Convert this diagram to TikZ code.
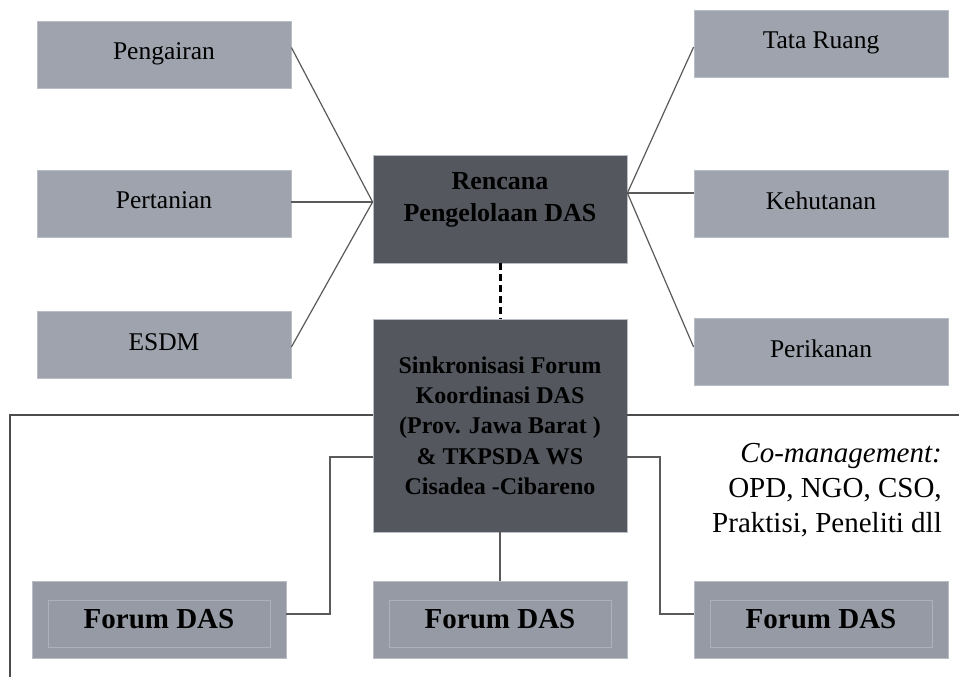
\documentclass[tikz,border=0pt]{standalone}
\usepackage{fontspec}
\setmainfont{Liberation Serif}
\usetikzlibrary{calc}
\definecolor{boxlight}{HTML}{9EA3AD}
\definecolor{boxforum}{HTML}{959AA4}
\definecolor{boxdark}{HTML}{54575E}
\definecolor{edgelight}{HTML}{B9BDC5}
\definecolor{linegray}{HTML}{5A5A5A}
\begin{document}
\begin{tikzpicture}[x=1pt,y=-1pt,
  smallbox/.style={fill=boxlight,draw=edgelight,line width=0.8pt,minimum width=254pt,minimum height=67pt,inner sep=0pt,font=\fontsize{25.5}{30}\selectfont},
  darkbox/.style={fill=boxdark,draw=edgelight,line width=0.8pt,minimum width=254pt,inner sep=0pt,align=center,font=\bfseries},
  forumbox/.style={fill=boxforum,draw=edgelight,line width=0.8pt,minimum width=254pt,minimum height=77pt,inner sep=0pt},
  forumin/.style={draw=boxlight!85!white,line width=0.6pt,minimum width=222pt,minimum height=47pt,inner sep=0pt},
  forumtxt/.style={font=\bfseries\fontsize{29}{32}\selectfont},
  conn/.style={draw=linegray,line width=1.2pt},
  frame/.style={draw=black!70,line width=1.8pt}]
\useasboundingbox (0,0) rectangle (959,677);
\fill[white] (0,0) rectangle (959,677);

% left boxes
\node[smallbox] (peng) at (164,54.5) {\raisebox{6pt}{Pengairan}};
\node[smallbox] (pert) at (164,203.5) {\raisebox{6pt}{Pertanian}};
\node[smallbox] (esdm) at (164,345) {\raisebox{6pt}{ESDM}};
% right boxes
\node[smallbox] (tata) at (821,43.5) {\raisebox{6pt}{Tata Ruang}};
\node[smallbox] (kehu) at (821,203.5) {\raisebox{6pt}{Kehutanan}};
\node[smallbox] (peri) at (821,351.5) {\raisebox{6pt}{Perikanan}};

% centre boxes
\node[darkbox,minimum height=108pt] (renc) at (500,209) {};
\node[align=center,inner sep=0pt,font=\bfseries\fontsize{26}{32}\selectfont] (renct) at (500,200) {Rencana\\Pengelolaan DAS};
\node[darkbox,minimum height=213pt,font=\bfseries\fontsize{24}{30.3}\selectfont] (sink) at (500,425.5)
  {Sinkronisasi Forum\\Koordinasi DAS\\(Prov. Jawa Barat )\\\& TKPSDA WS\\Cisadea -Cibareno};

% forum boxes
\node[forumbox] (fl) at (159,619.5) {};
\node[forumin] (fli) at (159,623.5) {};
\node[forumtxt] (flt) at (159,619) {Forum DAS};
\node[forumbox] (fm) at (500,620) {};
\node[forumin] (fmi) at (500,624) {};
\node[forumtxt] (fmt) at (500,619.5) {Forum DAS};
\node[forumbox] (fr) at (821,620) {};
\node[forumin] (fri) at (821,624) {};
\node[forumtxt] (frt) at (821,619.5) {Forum DAS};

% converge points
\coordinate (lc) at ([yshift=7pt]renc.west);
\coordinate (rc) at ([yshift=16pt]renc.east);

\draw[conn] ([yshift=7pt]peng.east) -- (lc);
\draw[conn] ([yshift=1.5pt]pert.east) -- (lc);
\draw[conn] ([yshift=-2pt]esdm.east) -- (lc);
\draw[conn] ([yshift=-3.5pt]tata.west) -- (rc);
\draw[conn] ([yshift=10.5pt]kehu.west) -- (rc);
\draw[conn] ([yshift=4.5pt]peri.west) -- (rc);

% dashed link
\draw[black,line width=3pt,dash pattern=on 7pt off 4pt] (renc.south) -- (sink.north);

% frame line
\coordinate (fa) at (10,677);
\coordinate (fb) at (10,415);
\coordinate (fc) at (959,415);
\draw[frame] (fa) -- (fb) -- (sink.west |- fb);
\draw[frame] (sink.east |- fc) -- (fc);

% forum connectors
\draw[conn] ([yshift=-31.5pt]sink.west) -| (330,614) -- ([yshift=5.5pt]fl.east);
\draw[conn] (sink.south) -- (fm.north);
\draw[conn] ([yshift=-31.5pt]sink.east) -| (660,614) -- ([yshift=6pt]fr.west);

% co-management
\node[anchor=north east,align=right,inner sep=0pt,font=\fontsize{29}{35}\selectfont] (coman) at (942,443)
  {\textit{Co-management:}\\OPD, NGO, CSO,\\Praktisi, Peneliti dll};
\end{tikzpicture}
\end{document}
